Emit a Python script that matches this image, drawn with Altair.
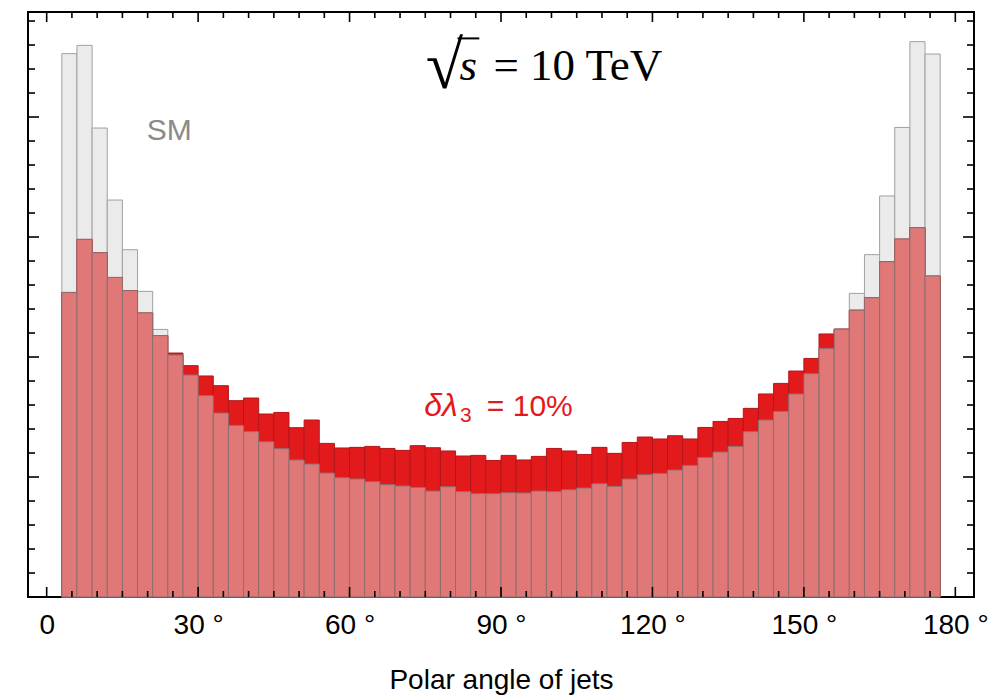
import altair as alt
import pandas as pd

# ---------------- data ----------------
bin_width = 3
bin_left = list(range(3, 177, 3))          # 58 bins, 3..177 degrees

sm = [4.528, 4.597, 3.908, 3.308, 2.894, 2.547, 2.230, 2.017, 1.850, 1.678,
      1.533, 1.430, 1.378, 1.294, 1.236, 1.142, 1.108, 1.033, 0.994, 0.983,
      0.961, 0.936, 0.925, 0.913, 0.883, 0.919, 0.878, 0.861, 0.861, 0.869,
      0.867, 0.883, 0.878, 0.894, 0.908, 0.944, 0.922, 0.983, 1.019, 1.030,
      1.058, 1.097, 1.163, 1.208, 1.255, 1.378, 1.475, 1.547, 1.692, 1.861,
      2.072, 2.233, 2.530, 2.853, 3.342, 3.913, 4.628, 4.525]

bsm = [2.538, 2.980, 2.869, 2.663, 2.553, 2.367, 2.178, 2.033, 1.928, 1.842,
       1.761, 1.636, 1.658, 1.525, 1.538, 1.411, 1.475, 1.280, 1.242, 1.247,
       1.255, 1.238, 1.222, 1.261, 1.244, 1.217, 1.175, 1.180, 1.138, 1.180,
       1.142, 1.172, 1.238, 1.217, 1.188, 1.247, 1.197, 1.288, 1.333, 1.317,
       1.344, 1.317, 1.413, 1.463, 1.488, 1.572, 1.692, 1.780, 1.883, 1.988,
       2.192, 2.232, 2.390, 2.494, 2.794, 2.983, 3.078, 2.675]

x_tick_labels = [0, 30, 60, 90, 120, 150, 180]
x_minor = [v for v in range(0, 181, 5) if v % 30 != 0]
y_major = [0, 1, 2, 3, 4]
y_minor = [round(0.2 * i, 1) for i in range(1, 25) if i % 5 != 0]

df = pd.DataFrame({
    "x0": bin_left,
    "x1": [b + bin_width for b in bin_left],
    "sm": sm,
    "bsm": bsm,
})
df["both"] = df[["sm", "bsm"]].min(axis=1)

W, H = 946, 585
xscale = alt.Scale(domain=[-3.7, 183.7], nice=False, zero=False)
yscale = alt.Scale(domain=[0, 4.875], nice=False, zero=False)

FONT = "Liberation Sans"
SERIF = "Liberation Serif"

x_axis = alt.Axis(
    values=x_tick_labels,
    labelExpr="datum.value == 0 ? '0' : datum.value + ' °'",
    ticks=False, tickSize=0, domain=False, grid=False,
    labelFont=FONT, labelFontSize=28, labelColor="black",
    labelPadding=14, labelFlush=False, labelOverlap=False,
    titleFont=FONT, titleFontSize=28,
    titleFontWeight="normal", titleColor="black", titlePadding=27,
)
XTITLE = "Polar angle of jets"

def X(field):
    return alt.X(field, scale=xscale, axis=x_axis, title=XTITLE)

def Y(field):
    return alt.Y(field, scale=yscale, axis=None)

base = alt.Chart(df)

sm_bars = base.mark_rect(fill="#EBEBEB", stroke="#A0A0A0", strokeWidth=1).encode(
    x=X("x0:Q"), x2="x1:Q", y=Y("sm:Q"), y2=alt.datum(0))
bsm_bars = base.mark_rect(fill="#E31A1C", stroke="#B3161A", strokeWidth=1).encode(
    x=X("x0:Q"), x2="x1:Q", y=Y("bsm:Q"), y2=alt.datum(0))
both_bars = base.mark_rect(fill="#E07878", stroke="#8F6E6E", strokeWidth=1).encode(
    x=X("x0:Q"), x2="x1:Q", y=Y("both:Q"), y2=alt.datum(0))

# ---------------- frame ticks (inward) ----------------
xmaj = alt.Chart(pd.DataFrame({"x0": x_tick_labels}))
xmin = alt.Chart(pd.DataFrame({"x0": x_minor}))
ymaj = alt.Chart(pd.DataFrame({"v": y_major}))
ymin = alt.Chart(pd.DataFrame({"v": y_minor}))

def xt(ch, y0, y1):
    return ch.mark_rule(color="black", strokeWidth=1.6).encode(
        x=X("x0:Q"), y=alt.value(y0), y2=alt.value(y1))

def yt(ch, x0, x1):
    return ch.mark_rule(color="black", strokeWidth=1.6).encode(
        y=Y("v:Q"), x=alt.value(x0), x2=alt.value(x1))

ticks = [
    xt(xmaj, H, H - 10), xt(xmin, H, H - 6), xt(xmaj, 0, 10), xt(xmin, 0, 6),
    yt(ymaj, 0, 11), yt(ymin, 0, 7), yt(ymaj, W, W - 11), yt(ymin, W, W - 7),
]

# ---------------- annotations ----------------
def label(x, y, text, size, color="black", font=FONT, style="normal", align="left"):
    return alt.Chart(pd.DataFrame({"x0": [x], "y": [y], "t": [text]})).mark_text(
        font=font, fontSize=size, color=color, fontStyle=style, align=align,
        baseline="alphabetic").encode(
        x=X("x0:Q"), y=Y("y:Q"), text="t:N")

# vinculum of the square root over "s"
vinc = alt.Chart(pd.DataFrame({"x0": [81.4], "x1": [85.7], "y": [4.655]})).mark_rule(
    color="black", strokeWidth=2).encode(x=X("x0:Q"), x2="x1:Q", y=Y("y:Q"))

annotations = [
    label(78.8, 4.24, "√", 68, font=SERIF, align="center"),
    vinc,
    label(81.8, 4.308, "s", 45, font=SERIF, style="italic"),
    label(88.5, 4.308, "= 10 TeV", 45, font=SERIF),
    label(24.3, 3.808, "SM", 30, color="#8A8A8A", align="center"),
    label(74.8, 1.508, "δλ", 32, color="#E31A1C", style="italic"),
    label(81.9, 1.458, "3", 21, color="#E31A1C"),
    label(87.2, 1.508, "= 10%", 30, color="#E31A1C"),
]

chart = alt.layer(sm_bars, bsm_bars, both_bars, *ticks, *annotations).properties(
    width=W, height=H, background="white",
    padding={"left": 27, "top": 11, "right": 14, "bottom": 4},
).configure_view(stroke="black", strokeWidth=2)

chart.save("out.html", embed_options={"renderer": "svg", "actions": False})
